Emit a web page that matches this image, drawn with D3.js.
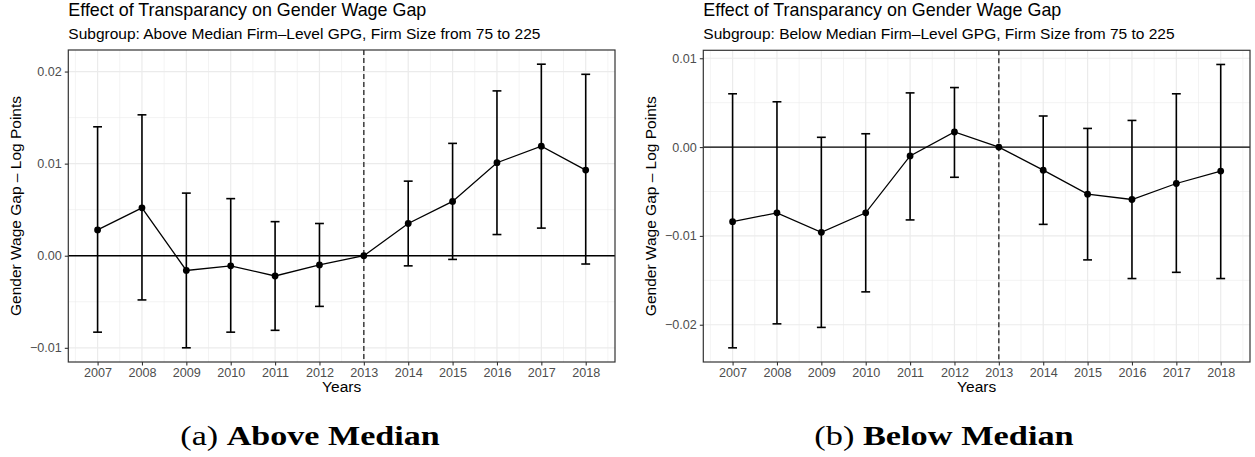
<!DOCTYPE html>
<html>
<head>
<meta charset="utf-8">
<script src="https://cdn.jsdelivr.net/npm/d3@7"></script>
<style>
  body { margin: 0; background: #fff; }
  svg { display: block; }
</style>
</head>
<body>
<div id="chart"></div>
<script>
var years = [2007, 2008, 2009, 2010, 2011, 2012, 2013, 2014, 2015, 2016, 2017, 2018];

// above median panel
var aboveEst = [0.0028, 0.0052, -0.0016, -0.0011, -0.0022, -0.0010, 0, 0.0035, 0.0059, 0.0101, 0.0119, 0.0093];
var aboveLo  = [-0.0083, -0.0048, -0.0100, -0.0083, -0.0081, -0.0055, 0, -0.0011, -0.0004, 0.0023, 0.0030, -0.0009];
var aboveHi  = [0.0140, 0.0153, 0.0068, 0.0062, 0.0037, 0.0035, 0, 0.0081, 0.0122, 0.0179, 0.0208, 0.0197];
var aboveTicks = [-0.01, 0, 0.01, 0.02];

// below median panel
var belowEst = [-0.0084, -0.0074, -0.0096, -0.0074, -0.0010, 0.0017, 0, -0.0026, -0.0053, -0.0059, -0.0041, -0.0027];
var belowLo  = [-0.0226, -0.0199, -0.0203, -0.0163, -0.0082, -0.0034, 0, -0.0087, -0.0127, -0.0148, -0.0141, -0.0148];
var belowHi  = [0.0060, 0.0051, 0.0011, 0.0015, 0.0061, 0.0067, 0, 0.0035, 0.0021, 0.0030, 0.0060, 0.0093];
var belowTicks = [-0.02, -0.01, 0, 0.01];

var titleText = "Effect of Transparancy on Gender Wage Gap";
var subAbove = "Subgroup: Above Median Firm\u2013Level GPG, Firm Size from 75 to 225";
var subBelow = "Subgroup: Below Median Firm\u2013Level GPG, Firm Size from 75 to 225";
var eventYear = 2013;
var barWidth = 0.2;

var W = 1255, H = 457;
var svg = d3.select("#chart").append("svg")
  .attr("width", W).attr("height", H)
  .style("font-family", "'Liberation Sans', Arial, sans-serif");

function fmt(v) {
  var s = d3.format(".2f")(Math.abs(v));
  return (v < 0 ? "\u2212" : "") + s;
}

function drawPanel(left, right, top, bottom, est, lo, hi, ticks, subtitle, caption, capX) {
  var rows = years.map(function(y, i){ return {year: y, est: est[i], lo: lo[i], hi: hi[i]}; });

  // ggplot style 5% expansion
  var xmin = d3.min(years) - barWidth/2, xmax = d3.max(years) + barWidth/2;
  var xpad = (xmax - xmin) * 0.05;
  var x = d3.scaleLinear().domain([xmin - xpad, xmax + xpad]).range([left, right]);

  var ymin = d3.min(lo), ymax = d3.max(hi);
  var ypad = (ymax - ymin) * 0.05;
  var y = d3.scaleLinear().domain([ymin - ypad, ymax + ypad]).range([bottom, top]);

  var g = svg.append("g");

  // minor grid
  var minorX = d3.range(d3.min(years) - 0.5, d3.max(years) + 1, 1);
  var minorY = [];
  for (var k = 0; k < ticks.length + 1; k++) {
    var mv = (k === 0 ? ticks[0] - 0.005 : ticks[k-1] + 0.005);
    if (mv > y.domain()[0] && mv < y.domain()[1]) minorY.push(mv);
  }
  g.selectAll(".mx").data(minorX).enter().append("line")
    .attr("x1", d => x(d)).attr("x2", d => x(d))
    .attr("y1", top).attr("y2", bottom)
    .attr("stroke", "#ebebeb").attr("stroke-width", 0.6);
  g.selectAll(".my").data(minorY).enter().append("line")
    .attr("x1", left).attr("x2", right)
    .attr("y1", d => y(d)).attr("y2", d => y(d))
    .attr("stroke", "#ebebeb").attr("stroke-width", 0.6);

  // major grid
  g.selectAll(".gx").data(years).enter().append("line")
    .attr("x1", d => x(d)).attr("x2", d => x(d))
    .attr("y1", top).attr("y2", bottom)
    .attr("stroke", "#ebebeb").attr("stroke-width", 1.2);
  g.selectAll(".gy").data(ticks).enter().append("line")
    .attr("x1", left).attr("x2", right)
    .attr("y1", d => y(d)).attr("y2", d => y(d))
    .attr("stroke", "#ebebeb").attr("stroke-width", 1.2);

  // zero line and event line
  g.append("line")
    .attr("x1", left).attr("x2", right)
    .attr("y1", y(0)).attr("y2", y(0))
    .attr("stroke", "#000").attr("stroke-width", 1.3);
  g.append("line")
    .attr("x1", x(eventYear)).attr("x2", x(eventYear))
    .attr("y1", top).attr("y2", bottom)
    .attr("stroke", "#222").attr("stroke-width", 1.3)
    .attr("stroke-dasharray", "5,3");

  // error bars (none for reference year)
  var bars = rows.filter(d => d.year !== eventYear);
  var half = (x(barWidth) - x(0)) / 2;
  g.selectAll(".eb").data(bars).enter().append("line")
    .attr("x1", d => x(d.year)).attr("x2", d => x(d.year))
    .attr("y1", d => y(d.lo)).attr("y2", d => y(d.hi))
    .attr("stroke", "#000").attr("stroke-width", 1.6);
  g.selectAll(".ebt").data(bars).enter().append("line")
    .attr("x1", d => x(d.year) - half).attr("x2", d => x(d.year) + half)
    .attr("y1", d => y(d.hi)).attr("y2", d => y(d.hi))
    .attr("stroke", "#000").attr("stroke-width", 1.6);
  g.selectAll(".ebb").data(bars).enter().append("line")
    .attr("x1", d => x(d.year) - half).attr("x2", d => x(d.year) + half)
    .attr("y1", d => y(d.lo)).attr("y2", d => y(d.lo))
    .attr("stroke", "#000").attr("stroke-width", 1.6);

  // estimate line and points
  var line = d3.line().x(d => x(d.year)).y(d => y(d.est));
  g.append("path").datum(rows)
    .attr("d", line).attr("fill", "none")
    .attr("stroke", "#000").attr("stroke-width", 1.3);
  g.selectAll(".pt").data(rows).enter().append("circle")
    .attr("cx", d => x(d.year)).attr("cy", d => y(d.est))
    .attr("r", 3.4).attr("fill", "#000");

  // panel border
  g.append("rect")
    .attr("x", left).attr("y", top)
    .attr("width", right - left).attr("height", bottom - top)
    .attr("fill", "none").attr("stroke", "#333").attr("stroke-width", 1.2);

  // axes
  var xAxis = d3.axisBottom(x).tickValues(years).tickFormat(d3.format("d")).tickSize(3.5).tickPadding(3);
  var yAxis = d3.axisLeft(y).tickValues(ticks).tickFormat(fmt).tickSize(3.5).tickPadding(3);
  var gx = g.append("g").attr("transform", "translate(0," + bottom + ")").call(xAxis);
  var gy = g.append("g").attr("transform", "translate(" + left + ",0)").call(yAxis);
  [gx, gy].forEach(function(a){
    a.select(".domain").remove();
    a.selectAll(".tick line").attr("stroke", "#333").attr("stroke-width", 1.1);
    a.selectAll(".tick text").attr("fill", "#4d4d4d")
      .style("font-family", "'Liberation Sans', Arial, sans-serif").style("font-size", "12.6px");
  });

  // titles
  g.append("text").attr("x", left).attr("y", 16.3)
    .style("font-size", "17.9px").attr("fill", "#000").text(titleText);
  g.append("text").attr("x", left).attr("y", 38.5)
    .style("font-size", "15.5px").attr("fill", "#000").text(subtitle);
  g.append("text").attr("x", (left + right) / 2).attr("y", 392)
    .attr("text-anchor", "middle").style("font-size", "15.5px").text("Years");
  g.append("text")
    .attr("transform", "translate(" + (left - 47) + "," + ((top + bottom) / 2) + ") rotate(-90)")
    .attr("text-anchor", "middle").style("font-size", "15.5px")
    .text("Gender Wage Gap \u2013 Log Points");

  // subfigure caption, stretched to the wide latex bold face
  var capG = svg.append("g").attr("transform", "translate(" + capX + ",445)");
  var cap = capG.append("text").attr("x", 0).attr("y", 0)
    .attr("text-anchor", "middle")
    .style("font-family", "'Liberation Serif', 'Times New Roman', serif")
    .style("font-size", "28px");
  cap.append("tspan").text(caption[0] + " ");
  cap.append("tspan").attr("font-weight", "bold").text(caption[1]);
  var wNat = cap.node().getBBox().width;
  cap.attr("transform", "scale(" + (260 / wNat) + ",1)");
}

drawPanel(68.3, 615, 50, 362, aboveEst, aboveLo, aboveHi, aboveTicks, subAbove, ["(a)", "Above Median"], 310);
drawPanel(703.3, 1250, 50.3, 362, belowEst, belowLo, belowHi, belowTicks, subBelow, ["(b)", "Below Median"], 944);
</script>
</body>
</html>
